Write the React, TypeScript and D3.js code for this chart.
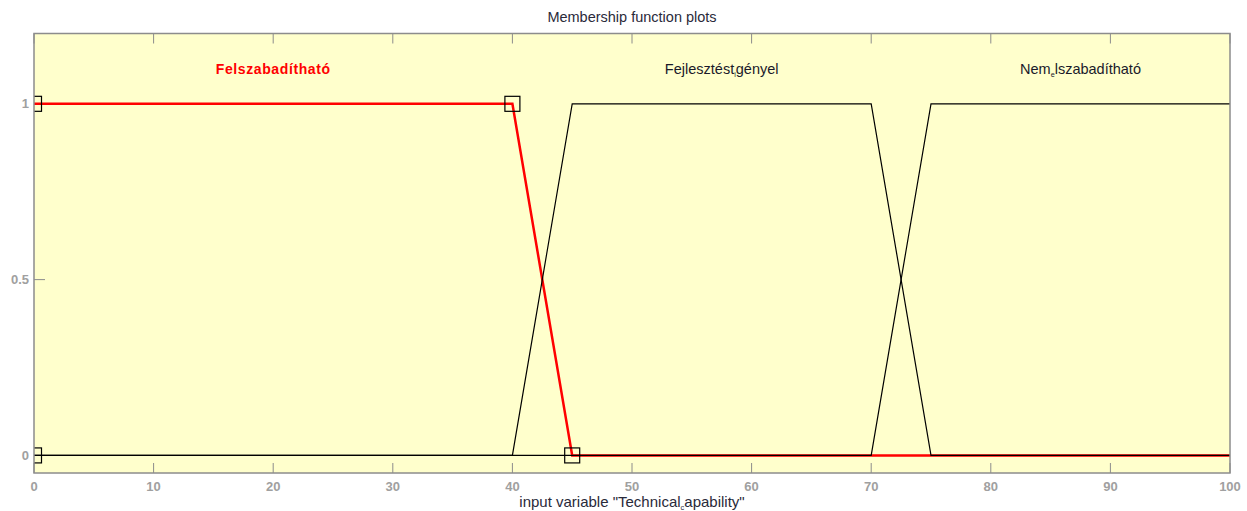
import React, { useEffect, useRef } from 'react';
import * as d3 from 'd3';

// membership functions of input variable (trapmf params)
const mfNames = ['Felszabadítható', 'Fejlesztést_igényel', 'Nem_elszabadítható'];
const mfParams = [
  [0, 0, 40, 45],
  [40, 45, 70, 75],
  [70, 75, 100, 100],
];
const selectedMf = 0;
const xTicks = [0, 10, 20, 30, 40, 50, 60, 70, 80, 90, 100];
const yTicks = [0, 0.5, 1];
const titleText = 'Membership function plots';
const xLabelText = 'input variable "Technical_capability"';

// TeX-like underscore: next char becomes subscript
function addTexText(sel: any, str: string, size: number) {
  const parts = str.split('_');
  parts.forEach((p, i) => {
    if (i === 0) {
      sel.append('tspan').text(p);
    } else {
      sel.append('tspan').attr('font-size', size * 0.5).attr('dy', 3).text(p[0]);
      sel.append('tspan').attr('dy', -3).text(p.slice(1));
    }
  });
}

const App = () => {
  const svgRef = useRef<SVGSVGElement>(null);

  useEffect(() => {
    const width = 1247;
    const height = 511;
    const margin = { top: 33.5, right: 17, bottom: 38, left: 34 };
    const font = 'Liberation Sans, Arial, sans-serif';

    const svg = d3.select(svgRef.current)
      .attr('width', width)
      .attr('height', height);
    svg.selectAll('*').remove();

    const x = d3.scaleLinear().domain([0, 100]).range([margin.left, width - margin.right]);
    const y = d3.scaleLinear().domain([-0.05, 1.2]).range([height - margin.bottom, margin.top]);

    svg.append('rect')
      .attr('width', width).attr('height', height).attr('fill', '#ffffff');

    svg.append('defs').append('clipPath').attr('id', 'plotclip')
      .append('rect')
      .attr('x', margin.left).attr('y', margin.top)
      .attr('width', x(100) - x(0)).attr('height', y(-0.05) - y(1.2));

    svg.append('rect')
      .attr('x', margin.left).attr('y', margin.top)
      .attr('width', x(100) - x(0)).attr('height', y(-0.05) - y(1.2))
      .attr('fill', '#ffffcc');

    // ticks inside the box
    const tickG = svg.append('g').attr('stroke', '#8c8c8c').attr('stroke-width', 1);
    xTicks.forEach(t => {
      tickG.append('line').attr('x1', x(t)).attr('x2', x(t))
        .attr('y1', y(-0.05)).attr('y2', y(-0.05) - 10);
      tickG.append('line').attr('x1', x(t)).attr('x2', x(t))
        .attr('y1', y(1.2)).attr('y2', y(1.2) + 10);
    });
    yTicks.forEach(t => {
      tickG.append('line').attr('x1', x(0)).attr('x2', x(0) + 11)
        .attr('y1', y(t)).attr('y2', y(t));
    });

    // tick labels
    svg.append('g').selectAll('text').data(xTicks).join('text')
      .attr('x', d => x(d)).attr('y', 491)
      .attr('text-anchor', 'middle')
      .attr('font-family', font)
      .attr('font-size', 13).attr('font-weight', 'bold')
      .attr('fill', '#a0a0a0')
      .text(d => d);
    svg.append('g').selectAll('text').data(yTicks).join('text')
      .attr('x', margin.left - 5).attr('y', d => y(d)).attr('dy', '0.35em')
      .attr('text-anchor', 'end')
      .attr('font-family', font)
      .attr('font-size', 13).attr('font-weight', 'bold')
      .attr('fill', '#a0a0a0')
      .text(d => d);

    const trap = (p: number[]) => [
      [0, p[0] === p[1] && p[0] === 0 ? 1 : 0],
      [p[0], p[0] === p[1] && p[0] === 0 ? 1 : 0],
      [p[1], 1], [p[2], 1], [p[3], p[2] === p[3] && p[3] === 100 ? 1 : 0],
      [100, p[2] === p[3] && p[3] === 100 ? 1 : 0],
    ];
    const line = d3.line<number[]>().x(d => x(d[0])).y(d => y(d[1]));

    const plot = svg.append('g').attr('clip-path', 'url(#plotclip)');

    // selected mf first (thick red) then black ones over
    plot.append('path')
      .attr('d', line(trap(mfParams[selectedMf])))
      .attr('fill', 'none').attr('stroke', '#ff0000').attr('stroke-width', 2.5);
    mfParams.forEach((p, i) => {
      if (i === selectedMf) return;
      plot.append('path')
        .attr('d', line(trap(p)))
        .attr('fill', 'none').attr('stroke', '#000000').attr('stroke-width', 1.2);
    });

    // vertex squares of selected mf
    const sp = mfParams[selectedMf];
    const verts = [[sp[0], 0], [sp[1], 1], [sp[2], 1], [sp[3], 0]];
    plot.append('g').selectAll('rect').data(verts).join('rect')
      .attr('x', d => x(d[0]) - 7.5).attr('y', d => y(d[1]) - 7.5)
      .attr('width', 15).attr('height', 15)
      .attr('fill', 'none').attr('stroke', '#000').attr('stroke-width', 1.2);

    // box border
    svg.append('rect')
      .attr('x', margin.left).attr('y', margin.top)
      .attr('width', x(100) - x(0)).attr('height', y(-0.05) - y(1.2))
      .attr('fill', 'none').attr('stroke', '#8c8c8c').attr('stroke-width', 1.5);

    // mf labels
    mfParams.forEach((p, i) => {
      const sel = i === selectedMf;
      const t = svg.append('text')
        .attr('x', x((p[1] + p[2]) / 2)).attr('y', 74)
        .attr('text-anchor', 'middle')
        .attr('font-family', font)
        .attr('font-size', sel ? 14 : 14.5)
        .attr('font-weight', sel ? 'bold' : 'normal')
        .attr('letter-spacing', sel ? 0.6 : 0)
        .attr('fill', sel ? '#ff0000' : '#1a1a2a');
      addTexText(t, mfNames[i], 14.5);
    });

    svg.append('text')
      .attr('x', (x(0) + x(100)) / 2).attr('y', 22)
      .attr('text-anchor', 'middle')
      .attr('font-family', font)
      .attr('font-size', 14.5).attr('fill', '#2a2a3a')
      .text(titleText);

    const xl = svg.append('text')
      .attr('x', (x(0) + x(100)) / 2).attr('y', 507)
      .attr('text-anchor', 'middle')
      .attr('font-family', font)
      .attr('font-size', 15).attr('fill', '#2a2a3a');
    addTexText(xl, xLabelText, 15);
  }, []);

  return (
    <div style={{ position: 'absolute', left: 0, top: 0 }}>
      <svg ref={svgRef}></svg>
    </div>
  );
};

export default App;
